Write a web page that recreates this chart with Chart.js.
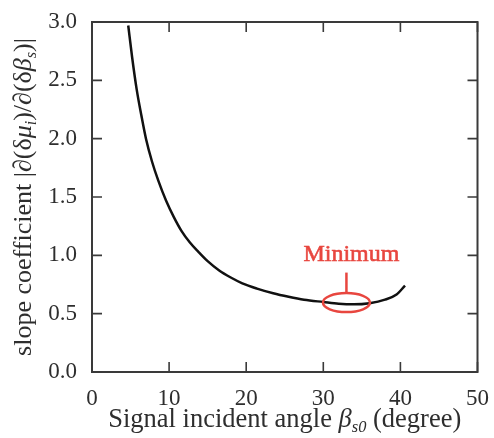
<!DOCTYPE html>
<html>
<head>
<meta charset="utf-8">
<script src="https://cdn.jsdelivr.net/npm/chart.js@4.4.0/dist/chart.umd.min.js"></script>
<style>
  html, body { margin: 0; padding: 0; background: #fff; }
  #wrap { width: 494px; height: 438px; position: relative; }
</style>
</head>
<body>
<div id="wrap"><canvas id="myChart"></canvas></div>
<script>
// incident angle (degree) and slope coefficient
const angles = [4.7, 5.2, 5.8, 6.4, 7.0, 7.8, 8.6, 9.6, 10.6, 11.6, 12.7, 13.8, 15.0, 16.5, 18.0, 19.5, 21.4, 23.5, 25.5, 27.5, 30.0, 32.0, 34.0, 36.0, 38.0, 39.5, 40.6];
const slopes = [2.97, 2.70, 2.42, 2.20, 2.00, 1.80, 1.64, 1.47, 1.33, 1.21, 1.11, 1.03, 0.95, 0.87, 0.81, 0.76, 0.715, 0.675, 0.645, 0.62, 0.60, 0.585, 0.58, 0.59, 0.62, 0.665, 0.74];
const xTicks = [0, 10, 20, 30, 40, 50];
const yTicks = [0.0, 0.5, 1.0, 1.5, 2.0, 2.5, 3.0];
const minAngle = 33.0;
const minSlope = 0.595;

const SERIF = '"Liberation Serif", "DejaVu Serif", serif';
const TEXT = '#2e2e2e';
const RED = '#e8463f';

// draw a run of text pieces (normal / italic / subscript) starting at x
function drawRich(ctx, parts, x, y, size) {
    parts.forEach(p => {
        const fs = p.sub ? size * 0.62 : size;
        ctx.font = (p.italic ? 'italic ' : '') + fs + 'px ' + SERIF;
        ctx.fillText(p.t, x, p.sub ? y + size * 0.2 : y);
        x += ctx.measureText(p.t).width;
    });
}
function richWidth(ctx, parts, size) {
    let w = 0;
    parts.forEach(p => {
        const fs = p.sub ? size * 0.62 : size;
        ctx.font = (p.italic ? 'italic ' : '') + fs + 'px ' + SERIF;
        w += ctx.measureText(p.t).width;
    });
    return w;
}

const xTitle = [
    { t: 'Signal incident angle ' },
    { t: 'β', italic: true },
    { t: 's0', italic: true, sub: true },
    { t: ' (degree)' }
];
const yTitle = [
    { t: 'slope coefficient |∂(δ' },
    { t: 'μ', italic: true },
    { t: 'i', italic: true, sub: true },
    { t: ')/∂(δ' },
    { t: 'β', italic: true },
    { t: 's', italic: true, sub: true },
    { t: ')|' }
];

// frame, inward ticks, titles and the red "Minimum" mark
const framePlugin = {
    id: 'frame',
    afterDraw(chart) {
        const ctx = chart.ctx;
        const a = chart.chartArea;
        const xs = chart.scales.x, ys = chart.scales.y;
        ctx.save();
        ctx.strokeStyle = '#3a3a3a';
        ctx.lineWidth = 2;
        ctx.strokeRect(a.left, a.top, a.right - a.left, a.bottom - a.top);
        ctx.lineWidth = 1.6;
        ctx.beginPath();
        xTicks.forEach(v => {
            const px = xs.getPixelForValue(v);
            ctx.moveTo(px, a.bottom); ctx.lineTo(px, a.bottom - 10);
            ctx.moveTo(px, a.top); ctx.lineTo(px, a.top + 10);
        });
        yTicks.forEach(v => {
            const py = ys.getPixelForValue(v);
            ctx.moveTo(a.left, py); ctx.lineTo(a.left + 10, py);
            ctx.moveTo(a.right, py); ctx.lineTo(a.right - 10, py);
        });
        ctx.stroke();

        // axis titles
        ctx.fillStyle = TEXT;
        ctx.textBaseline = 'alphabetic';
        const xSize = 26.5;
        const xw = richWidth(ctx, xTitle, xSize);
        drawRich(ctx, xTitle, (a.left + a.right) / 2 - xw / 2, 427, xSize);

        const ySize = 26;
        const yw = richWidth(ctx, yTitle, ySize);
        ctx.translate(31, (a.top + a.bottom) / 2);
        ctx.rotate(-Math.PI / 2);
        drawRich(ctx, yTitle, -yw / 2, 0, ySize);
        ctx.setTransform(1, 0, 0, 1, 0, 0);

        // minimum marker
        const cx = xs.getPixelForValue(minAngle);
        const cy = ys.getPixelForValue(minSlope);
        ctx.strokeStyle = RED;
        ctx.lineWidth = 2.5;
        ctx.beginPath();
        ctx.ellipse(cx, cy, 23.5, 9.5, 0, 0, Math.PI * 2);
        ctx.stroke();
        ctx.beginPath();
        ctx.moveTo(cx, cy - 9.5);
        ctx.lineTo(cx, cy - 30);
        ctx.stroke();
        ctx.fillStyle = RED;
        ctx.font = '24px ' + SERIF;
        ctx.textAlign = 'center';
        ctx.textBaseline = 'middle';
        ctx.lineWidth = 0.6;
        ctx.fillText('Minimum', cx + 5, cy - 48);
        ctx.strokeText('Minimum', cx + 5, cy - 48);
        ctx.restore();
    }
};

const data = {
    datasets: [{
        data: angles.map((a, i) => ({ x: a, y: slopes[i] })),
        borderColor: '#111',
        borderWidth: 2.5,
        pointRadius: 0,
        cubicInterpolationMode: 'monotone',
        fill: false
    }]
};

const config = {
    type: 'line',
    data: data,
    options: {
        responsive: true,
        maintainAspectRatio: false,
        animation: false,
        layout: { padding: { top: 22, right: 10, left: 0, bottom: 0 } },
        plugins: {
            legend: { display: false },
            tooltip: { enabled: false }
        },
        scales: {
            x: {
                type: 'linear',
                min: 0,
                max: 50,
                afterFit(scale) { scale.height = 66; },
                afterBuildTicks(scale) { scale.ticks = xTicks.map(v => ({ value: v })); },
                grid: { display: false },
                border: { display: false },
                ticks: {
                    color: TEXT,
                    padding: 5,
                    font: { family: SERIF, size: 23 }
                }
            },
            y: {
                min: 0,
                max: 3,
                afterFit(scale) { scale.width = 92; },
                afterBuildTicks(scale) { scale.ticks = yTicks.map(v => ({ value: v })); },
                grid: { display: false },
                border: { display: false },
                ticks: {
                    color: TEXT,
                    padding: 7,
                    font: { family: SERIF, size: 23 },
                    callback: v => v.toFixed(1)
                }
            }
        }
    },
    plugins: [framePlugin]
};

const myChart = new Chart(document.getElementById('myChart'), config);
</script>
</body>
</html>
